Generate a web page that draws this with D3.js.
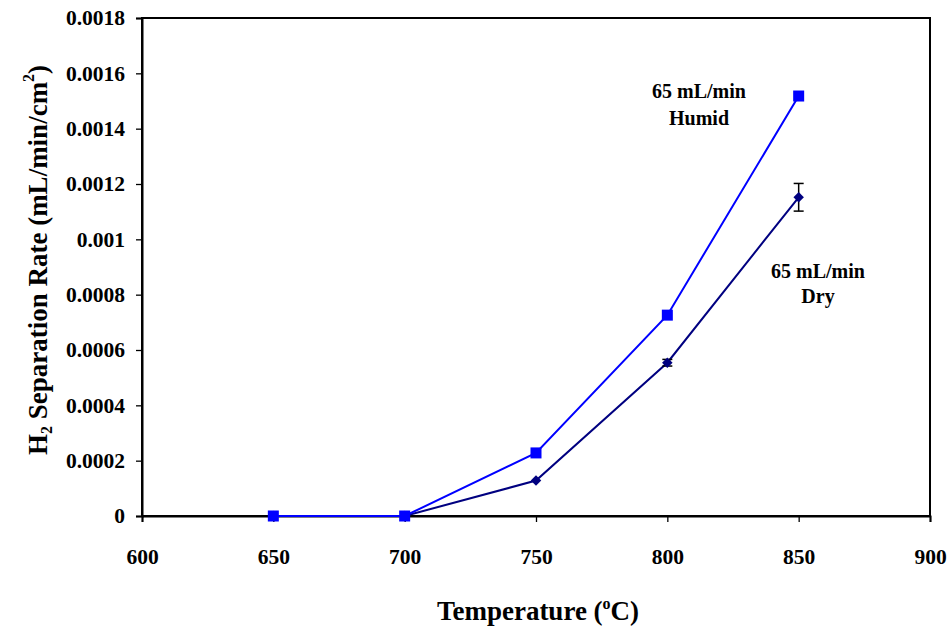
<!DOCTYPE html>
<html><head><meta charset="utf-8">
<script src="https://cdn.jsdelivr.net/npm/d3@7"></script>
<style>body{margin:0;background:#fff}svg{display:block}text{font-family:"Liberation Serif","Times New Roman",serif;font-weight:bold;fill:#000}</style>
</head><body>
<script>
const temps = [650, 700, 750, 800, 850];
const humid = [0, 0, 0.000228, 0.000726, 0.001518];
const dry = [0, 0, 0.000128, 0.000554, 0.001152];
const dryErr = [0, 0, 0, 0.000012, 0.00005];
const xTicks = [600, 650, 700, 750, 800, 850, 900];
const yTicks = [0, 0.0002, 0.0004, 0.0006, 0.0008, 0.001, 0.0012, 0.0014, 0.0016, 0.0018];

const W = 950, H = 628;
const m = {l: 142, t: 18, r: 20, b: 112};
const svg = d3.select("body").append("svg").attr("width", W).attr("height", H);
const x = d3.scaleLinear().domain([600, 900]).range([m.l, W - m.r]);
const y = d3.scaleLinear().domain([0, 0.0018]).range([H - m.b, m.t]);

// frame
svg.append("rect").attr("x", x(600)).attr("y", y(0.0018)).attr("width", x(900) - x(600)).attr("height", y(0) - y(0.0018))
  .attr("fill", "none").attr("stroke", "#000").attr("stroke-width", 2);

const xa = svg.append("g").attr("transform", `translate(0,${y(0)})`)
  .call(d3.axisBottom(x).tickValues(xTicks).tickSize(6).tickPadding(27).tickFormat(d3.format("d")));
const ya = svg.append("g").attr("transform", `translate(${x(600)},0)`)
  .call(d3.axisLeft(y).tickValues(yTicks).tickSize(6).tickPadding(11).tickFormat(d => d === 0 ? "0" : String(+d.toPrecision(2))));
[xa, ya].forEach(a => {
  a.select(".domain").attr("stroke", "#000").attr("stroke-width", 2);
  a.selectAll(".tick line").attr("stroke", "#000").attr("stroke-width", 1.3);
  a.selectAll("text").style("font-size", "21.5px").style("font-family", "Liberation Serif").style("font-weight", "bold");
});

const line = d3.line().x((d, i) => x(temps[i])).y(d => y(d));
svg.append("path").datum(dry).attr("d", line).attr("fill", "none").attr("stroke", "#000080").attr("stroke-width", 2);
// error bars
const eb = svg.append("g").attr("stroke", "#000").attr("stroke-width", 1.5);
temps.forEach((t, i) => {
  if (!dryErr[i]) return;
  const cx = x(t), y1 = y(dry[i] + dryErr[i]), y2 = y(dry[i] - dryErr[i]);
  eb.append("line").attr("x1", cx).attr("x2", cx).attr("y1", y1).attr("y2", y2);
  eb.append("line").attr("x1", cx - 5).attr("x2", cx + 5).attr("y1", y1).attr("y2", y1);
  eb.append("line").attr("x1", cx - 5).attr("x2", cx + 5).attr("y1", y2).attr("y2", y2);
});
svg.append("g").selectAll("path").data(dry).join("path")
  .attr("d", d3.symbol(d3.symbolDiamond2, 70)())
  .attr("transform", (d, i) => `translate(${x(temps[i])},${y(d)})`).attr("fill", "#000080");

svg.append("path").datum(humid).attr("d", line).attr("fill", "none").attr("stroke", "#0000FF").attr("stroke-width", 2);
svg.append("g").selectAll("rect").data(humid).join("rect")
  .attr("x", (d, i) => x(temps[i]) - 5.5).attr("y", d => y(d) - 5.5).attr("width", 11).attr("height", 11).attr("fill", "#0000FF");

// annotations
const ann = [["65 mL/min", 699, 98], ["Humid", 699, 125], ["65 mL/min", 818, 278], ["Dry", 818, 303]];
svg.append("g").selectAll("text").data(ann).join("text")
  .attr("x", d => d[1]).attr("y", d => d[2]).attr("text-anchor", "middle").style("font-size", "20px").text(d => d[0]);

// axis titles
const xt = svg.append("text").attr("x", 538).attr("y", 620).attr("text-anchor", "middle").style("font-size", "27px");
xt.append("tspan").text("Temperature (");
xt.append("tspan").attr("dy", -11).style("font-size", "16px").text("o");
xt.append("tspan").attr("dy", 11).text("C)");

const yt = svg.append("text").attr("transform", "translate(47,260) rotate(-90)").attr("text-anchor", "middle").style("font-size", "27px");
yt.append("tspan").text("H");
yt.append("tspan").attr("dy", 5).style("font-size", "16px").text("2");
yt.append("tspan").attr("dy", -5).text(" Separation Rate (mL/min/cm");
yt.append("tspan").attr("dy", -13).style("font-size", "16px").text("2");
yt.append("tspan").attr("dy", 13).text(")");
</script>
</body></html>
